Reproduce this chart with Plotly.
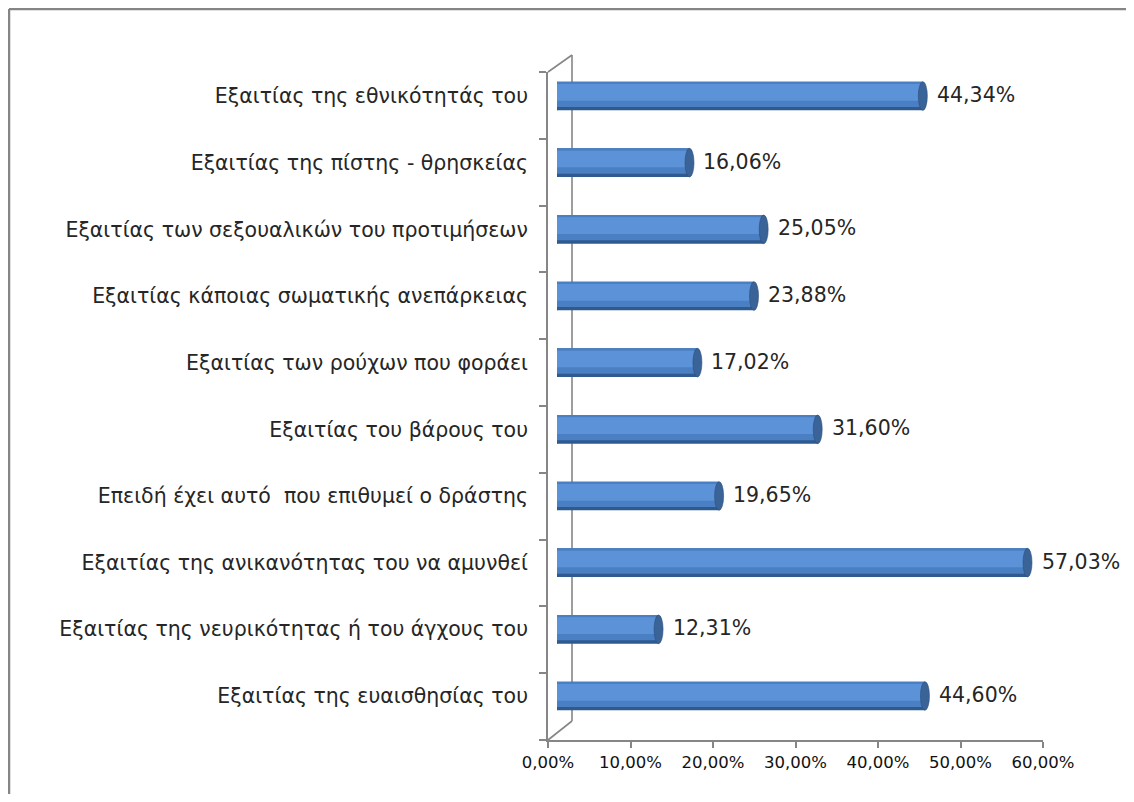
import plotly.graph_objects as go

categories = [
    "Εξαιτίας της εθνικότητάς του",
    "Εξαιτίας της πίστης - θρησκείας",
    "Εξαιτίας των σεξουαλικών του προτιμήσεων",
    "Εξαιτίας κάποιας σωματικής ανεπάρκειας",
    "Εξαιτίας των ρούχων που φοράει",
    "Εξαιτίας του βάρους του",
    "Επειδή έχει αυτό  που επιθυμεί ο δράστης",
    "Εξαιτίας της ανικανότητας του να αμυνθεί",
    "Εξαιτίας της νευρικότητας ή του άγχους του",
    "Εξαιτίας της ευαισθησίας του",
]
values = [44.34, 16.06, 25.05, 23.88, 17.02, 31.60, 19.65, 57.03, 12.31, 44.60]
tick_values = [0, 10, 20, 30, 40, 50, 60]

OFF = 8  # page body margin
W, H = 1134 - 2 * OFF, 802 - 2 * OFF
FONT = "DejaVu Sans"


def px(x):
    return (x - OFF) / W


def py(y):
    return 1 - (y - OFF) / H


def fmt(v):
    return f"{v:.2f}".replace(".", ",") + "%"


fig = go.Figure()

# cylinder shading built from overlaid bars of the same data
layers = [
    dict(color="#2F5A90", width=0.43, offset=-0.215),
    dict(color="#4A7FC3", width=0.38, offset=-0.215),
    dict(color="#5C93D8", width=0.25, offset=-0.18),
]
for lay in layers:
    fig.add_trace(go.Bar(
        x=values, y=categories, orientation="h",
        marker=dict(color=lay["color"], line=dict(width=0)),
        width=lay["width"], offset=lay["offset"],
        hoverinfo="skip", showlegend=False,
        xaxis="x", yaxis="y",
    ))

# empty trace so the visible (front) axis frame is drawn
fig.add_trace(go.Scatter(x=[], y=[], xaxis="x2", yaxis="y2",
                         showlegend=False, hoverinfo="skip"))

shapes = []
# end caps and rounded starts of the cylinders, anchored to data
for i, v in enumerate(values):
    shapes.append(dict(type="circle", xref="x", yref="y", xsizemode="pixel",
                       xanchor=v, x0=-4.5, x1=4.5, y0=i - 0.215, y1=i + 0.215,
                       fillcolor="#3A6398", line=dict(color="#2C4F7E", width=0.6),
                       layer="above"))
    shapes.append(dict(type="circle", xref="x", yref="y", xsizemode="pixel",
                       xanchor=0, x0=-4, x1=4, y0=i - 0.215, y1=i + 0.215,
                       fillcolor="#4A7FC3", line=dict(width=0),
                       layer="below"))

# 3D wall decoration
wall_col = "#868686"
border_col = "#858585"
shapes += [
    dict(type="line", xref="paper", yref="paper", x0=px(548), y0=py(740), x1=px(572), y1=py(721),
         line=dict(color=wall_col, width=1.6), layer="below"),
    dict(type="line", xref="paper", yref="paper", x0=px(572), y0=py(721), x1=px(572), y1=py(55),
         line=dict(color=wall_col, width=1.6), layer="below"),
    dict(type="line", xref="paper", yref="paper", x0=px(548), y0=py(72), x1=px(572), y1=py(55),
         line=dict(color=wall_col, width=1.6), layer="below"),
    # outer border (top and left edges; the others lie outside the picture)
    dict(type="line", xref="paper", yref="paper", x0=px(9), y0=py(9), x1=1, y1=py(9),
         line=dict(color=border_col, width=2.5), layer="below"),
    dict(type="line", xref="paper", yref="paper", x0=px(9), y0=py(9), x1=px(9), y1=0,
         line=dict(color=border_col, width=2.5), layer="below"),
]

annotations = []
for c, v in zip(categories, values):
    annotations.append(dict(x=v, y=c, xref="x", yref="y", text=fmt(v),
                            showarrow=False, xanchor="left", yanchor="middle",
                            xshift=12, yshift=1,
                            font=dict(family=FONT, size=20.5, color="#262626")))

fig.update_layout(
    width=W, height=H,
    margin=dict(l=0, r=0, t=0, b=0, autoexpand=False),
    paper_bgcolor="white",
    plot_bgcolor="rgba(0,0,0,0)",
    barmode="overlay",
    showlegend=False,
    separators=",.",
    font=dict(family=FONT, color="#262626"),
    xaxis=dict(domain=[px(557), px(1052)], range=[0, 60], visible=False,
               anchor="y", fixedrange=True, automargin=False),
    yaxis=dict(domain=[py(729.3), py(62.7)], type="category",
               categoryorder="array", categoryarray=categories,
               autorange="reversed", anchor="x", automargin=False,
               showline=False, showgrid=False, zeroline=False, ticks="",
               ticklabelstandoff=28,
               tickfont=dict(family=FONT, size=20.5, color="#262626")),
    xaxis2=dict(domain=[px(548), px(1043)], range=[0, 60], anchor="y2",
                automargin=False,
                tickmode="array", tickvals=tick_values,
                ticktext=[fmt(t) for t in tick_values],
                showline=True, linecolor=wall_col, linewidth=1.6,
                ticks="outside", ticklen=6, tickcolor=wall_col, tickwidth=1.6,
                showgrid=False, zeroline=False,
                tickfont=dict(family=FONT, size=16.5, color="#111111")),
    yaxis2=dict(domain=[py(740), py(72)], range=[0, 10], anchor="x2",
                automargin=False,
                dtick=1, showticklabels=False,
                showline=True, linecolor=wall_col, linewidth=1.6,
                ticks="outside", ticklen=7, tickcolor=wall_col, tickwidth=1.6,
                showgrid=False, zeroline=False),
    shapes=shapes,
    annotations=annotations,
)

fig.write_html("out.html", config={"displayModeBar": False})
